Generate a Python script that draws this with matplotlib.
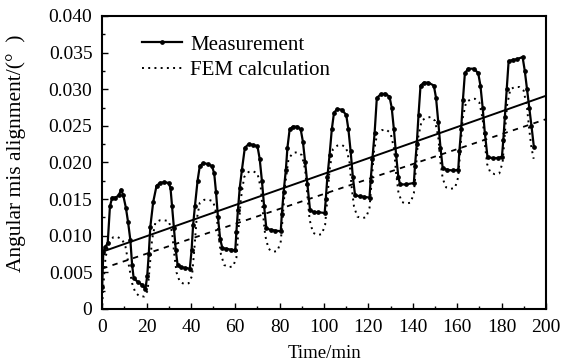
import matplotlib
matplotlib.use("Agg")
import matplotlib.pyplot as plt
from matplotlib.ticker import MultipleLocator, FixedLocator, FixedFormatter

plt.rcParams['font.family'] = ['Liberation Serif', 'DejaVu Serif']

# measurement (solid line with dots)
t_meas = [0.0, 0.5, 1.5, 2.5, 3.5, 4.5, 6.0, 7.5, 8.5, 9.5, 10.7, 11.7, 12.7, 13.5, 14.2, 16.0, 18.0, 19.5,
          20.3, 21.0, 21.7, 23.0, 24.5, 26.0, 28.0, 30.0, 30.8, 31.5, 32.3, 33.2, 34.0, 35.5, 37.5, 39.5,
          40.3, 41.0, 41.8, 43.0, 44.0, 45.5, 47.5, 49.5, 50.5, 51.3, 52.2, 53.2, 54.2, 56.0, 58.0, 60.0,
          60.5, 61.2, 62.0, 63.0, 64.3, 66.0, 68.0, 70.0, 71.0, 72.0, 73.0, 74.0, 76.0, 78.0, 80.5,
          81.0, 81.8, 82.8, 83.5, 84.5, 86.0, 88.0, 89.5, 90.5, 91.5, 92.5, 93.7, 95.5, 97.5, 100.3,
          100.8, 101.5, 102.5, 103.5, 104.5, 106.0, 108.0, 110.0, 111.0, 112.0, 113.0, 114.0, 116.0, 118.0, 120.5,
          121.0, 121.8, 122.8, 123.8, 125.5, 127.5, 129.5, 130.5, 131.5, 132.5, 133.5, 134.3, 137.0, 140.5,
          141.0, 141.8, 142.6, 143.5, 145.0, 147.0, 149.5, 150.5, 151.5, 152.5, 153.5, 155.5, 158.0, 160.5,
          161.0, 161.8, 162.6, 163.5, 165.0, 167.5, 169.5, 170.5, 171.5, 172.5, 173.7, 176.0, 178.5, 180.2,
          180.8, 181.5, 182.3, 183.2, 185.0, 187.0, 189.5, 190.5, 191.5, 192.5, 193.5, 194.6]
v_meas = [0.0030, 0.0078, 0.0085, 0.0090, 0.0140, 0.0152, 0.0152, 0.0155, 0.0163, 0.0155, 0.0138, 0.0118, 0.0094, 0.0060, 0.0042, 0.0037, 0.0033, 0.0027,
          0.0045, 0.0075, 0.0112, 0.0146, 0.0168, 0.0172, 0.0173, 0.0172, 0.0165, 0.0140, 0.0110, 0.0080, 0.0060, 0.0057, 0.0056, 0.0055,
          0.0080, 0.0115, 0.0140, 0.0175, 0.0195, 0.0199, 0.0198, 0.0195, 0.0185, 0.0160, 0.0125, 0.0095, 0.0083, 0.0082, 0.0081, 0.0080,
          0.0105, 0.0135, 0.0165, 0.0190, 0.0220, 0.0225, 0.0224, 0.0222, 0.0205, 0.0175, 0.0140, 0.0110, 0.0108, 0.0107, 0.0106,
          0.0130, 0.0160, 0.0190, 0.0220, 0.0245, 0.0249, 0.0249, 0.0245, 0.0228, 0.0200, 0.0170, 0.0135, 0.0132, 0.0132, 0.0131,
          0.0150, 0.0180, 0.0210, 0.0245, 0.0268, 0.0273, 0.0272, 0.0265, 0.0245, 0.0215, 0.0180, 0.0155, 0.0154, 0.0153, 0.0152,
          0.0175, 0.0205, 0.0240, 0.0288, 0.0293, 0.0294, 0.0290, 0.0275, 0.0245, 0.0210, 0.0180, 0.0170, 0.0170, 0.0172,
          0.0195, 0.0225, 0.0265, 0.0305, 0.0309, 0.0309, 0.0305, 0.0288, 0.0255, 0.0220, 0.0192, 0.0190, 0.0189, 0.0190,
          0.0215, 0.0245, 0.0285, 0.0322, 0.0328, 0.0328, 0.0322, 0.0305, 0.0275, 0.0240, 0.0207, 0.0206, 0.0206, 0.0208,
          0.0230, 0.0262, 0.0300, 0.0338, 0.0340, 0.0341, 0.0344, 0.0325, 0.0300, 0.0275, 0.0250, 0.0221]

# FEM calculation (dotted)
t_fem = [0.0, 0.5, 1.5, 3.0, 5.0, 7.0, 9.0, 10.5, 12.0, 13.5, 15.0, 17.0, 19.0,
         20.5, 21.5, 22.5, 24.0, 26.0, 28.0, 30.0, 31.5, 32.5, 33.5, 35.0, 37.0, 39.0,
         40.5, 41.5, 42.5, 44.0, 46.0, 48.0, 50.0, 51.5, 52.5, 53.5, 55.0, 57.0, 59.0,
         60.5, 61.5, 62.5, 64.0, 66.0, 68.0, 70.0, 71.5, 72.5, 73.5, 75.0, 77.0, 79.0,
         80.5, 81.5, 82.5, 84.0, 86.0, 88.0, 90.0, 91.5, 92.5, 93.5, 95.0, 97.0, 99.0,
         100.5, 101.5, 102.5, 104.0, 106.0, 108.0, 110.0, 111.5, 112.5, 113.5, 115.0, 117.0, 119.0,
         120.5, 121.5, 122.5, 124.0, 126.0, 128.0, 130.0, 131.5, 132.5, 133.5, 135.0, 137.0, 139.0,
         140.5, 141.5, 142.5, 144.0, 146.0, 148.0, 150.0, 151.5, 152.5, 153.5, 155.0, 157.0, 159.0,
         160.5, 161.5, 162.5, 164.0, 166.0, 168.0, 170.0, 171.5, 172.5, 173.5, 175.0, 177.0, 179.0,
         180.5, 181.5, 182.5, 184.0, 186.0, 188.0, 190.0, 191.5, 192.5, 193.5, 194.5]
v_fem = [0.0005, 0.0030, 0.0070, 0.0090, 0.0098, 0.0098, 0.0095, 0.0085, 0.0060, 0.0035, 0.0022, 0.0017, 0.0017,
         0.0025, 0.0060, 0.0095, 0.0118, 0.0121, 0.0121, 0.0120, 0.0105, 0.0075, 0.0050, 0.0037, 0.0034, 0.0035,
         0.0045, 0.0080, 0.0120, 0.0145, 0.0149, 0.0149, 0.0147, 0.0130, 0.0100, 0.0075, 0.0060, 0.0057, 0.0058,
         0.0070, 0.0110, 0.0150, 0.0180, 0.0187, 0.0188, 0.0185, 0.0165, 0.0130, 0.0100, 0.0082, 0.0078, 0.0079,
         0.0092, 0.0130, 0.0170, 0.0205, 0.0213, 0.0214, 0.0210, 0.0190, 0.0155, 0.0122, 0.0104, 0.0101, 0.0102,
         0.0115, 0.0150, 0.0190, 0.0218, 0.0223, 0.0224, 0.0220, 0.0200, 0.0165, 0.0140, 0.0126, 0.0124, 0.0125,
         0.0138, 0.0175, 0.0215, 0.0240, 0.0244, 0.0245, 0.0240, 0.0220, 0.0185, 0.0160, 0.0146, 0.0144, 0.0145,
         0.0158, 0.0195, 0.0235, 0.0257, 0.0261, 0.0262, 0.0257, 0.0235, 0.0200, 0.0178, 0.0166, 0.0164, 0.0165,
         0.0180, 0.0220, 0.0260, 0.0282, 0.0286, 0.0287, 0.0282, 0.0260, 0.0225, 0.0198, 0.0186, 0.0184, 0.0185,
         0.0200, 0.0240, 0.0278, 0.0300, 0.0303, 0.0303, 0.0298, 0.0275, 0.0245, 0.0220, 0.0205]

# linear trends
t_trend = [0, 200]
v_meas_trend = [0.0078, 0.0291]
v_fem_trend = [0.0055, 0.0259]

y_ticks = [0, 0.005, 0.010, 0.015, 0.020, 0.025, 0.030, 0.035, 0.040]
y_labels = ['0', '0.005', '0.010', '0.015', '0.020', '0.025', '0.030', '0.035', '0.040']

fig = plt.figure(figsize=(5.74, 3.63), dpi=100)
ax = fig.add_axes([0.178, 0.149, 0.773, 0.807])

ax.plot(t_meas, v_meas, '-', color='black', lw=1.6, marker='o', ms=2.4, label='Measurement')
ax.plot(t_fem, v_fem, color='black', lw=1.4, linestyle=(0, (1, 2.2)), label='FEM calculation')
ax.plot(t_trend, v_meas_trend, '-', color='black', lw=1.4)
ax.plot(t_trend, v_fem_trend, color='black', lw=1.3, linestyle=(0, (3, 3)))

ax.set_xlim(0, 200)
ax.set_ylim(0, 0.040)
ax.xaxis.set_major_locator(MultipleLocator(20))
ax.xaxis.set_minor_locator(MultipleLocator(10))
ax.yaxis.set_major_locator(FixedLocator(y_ticks))
ax.yaxis.set_major_formatter(FixedFormatter(y_labels))
ax.yaxis.set_minor_locator(MultipleLocator(0.0025))
ax.tick_params(which='both', direction='in', labelsize=14, width=1)
ax.tick_params(which='major', length=4)
ax.tick_params(which='minor', length=2)
ax.tick_params(axis='x', pad=7)
ax.tick_params(axis='y', pad=7)
for s in ax.spines.values():
    s.set_linewidth(1.5)

ax.set_xlabel('Time/min', fontsize=13.5)
ax.set_ylabel('Angular mis alignment/(°  )', fontsize=15.5)
ax.xaxis.set_label_coords(0.502, -0.122)
ax.yaxis.set_label_coords(-0.172, 0.53)

ax.legend(loc='upper left', frameon=False, fontsize=15, handlelength=1.9,
          handletextpad=0.4, labelspacing=0.28, borderpad=0, borderaxespad=0,
          bbox_to_anchor=(0.09, 0.935))

fig.savefig('out.png', dpi=100)
